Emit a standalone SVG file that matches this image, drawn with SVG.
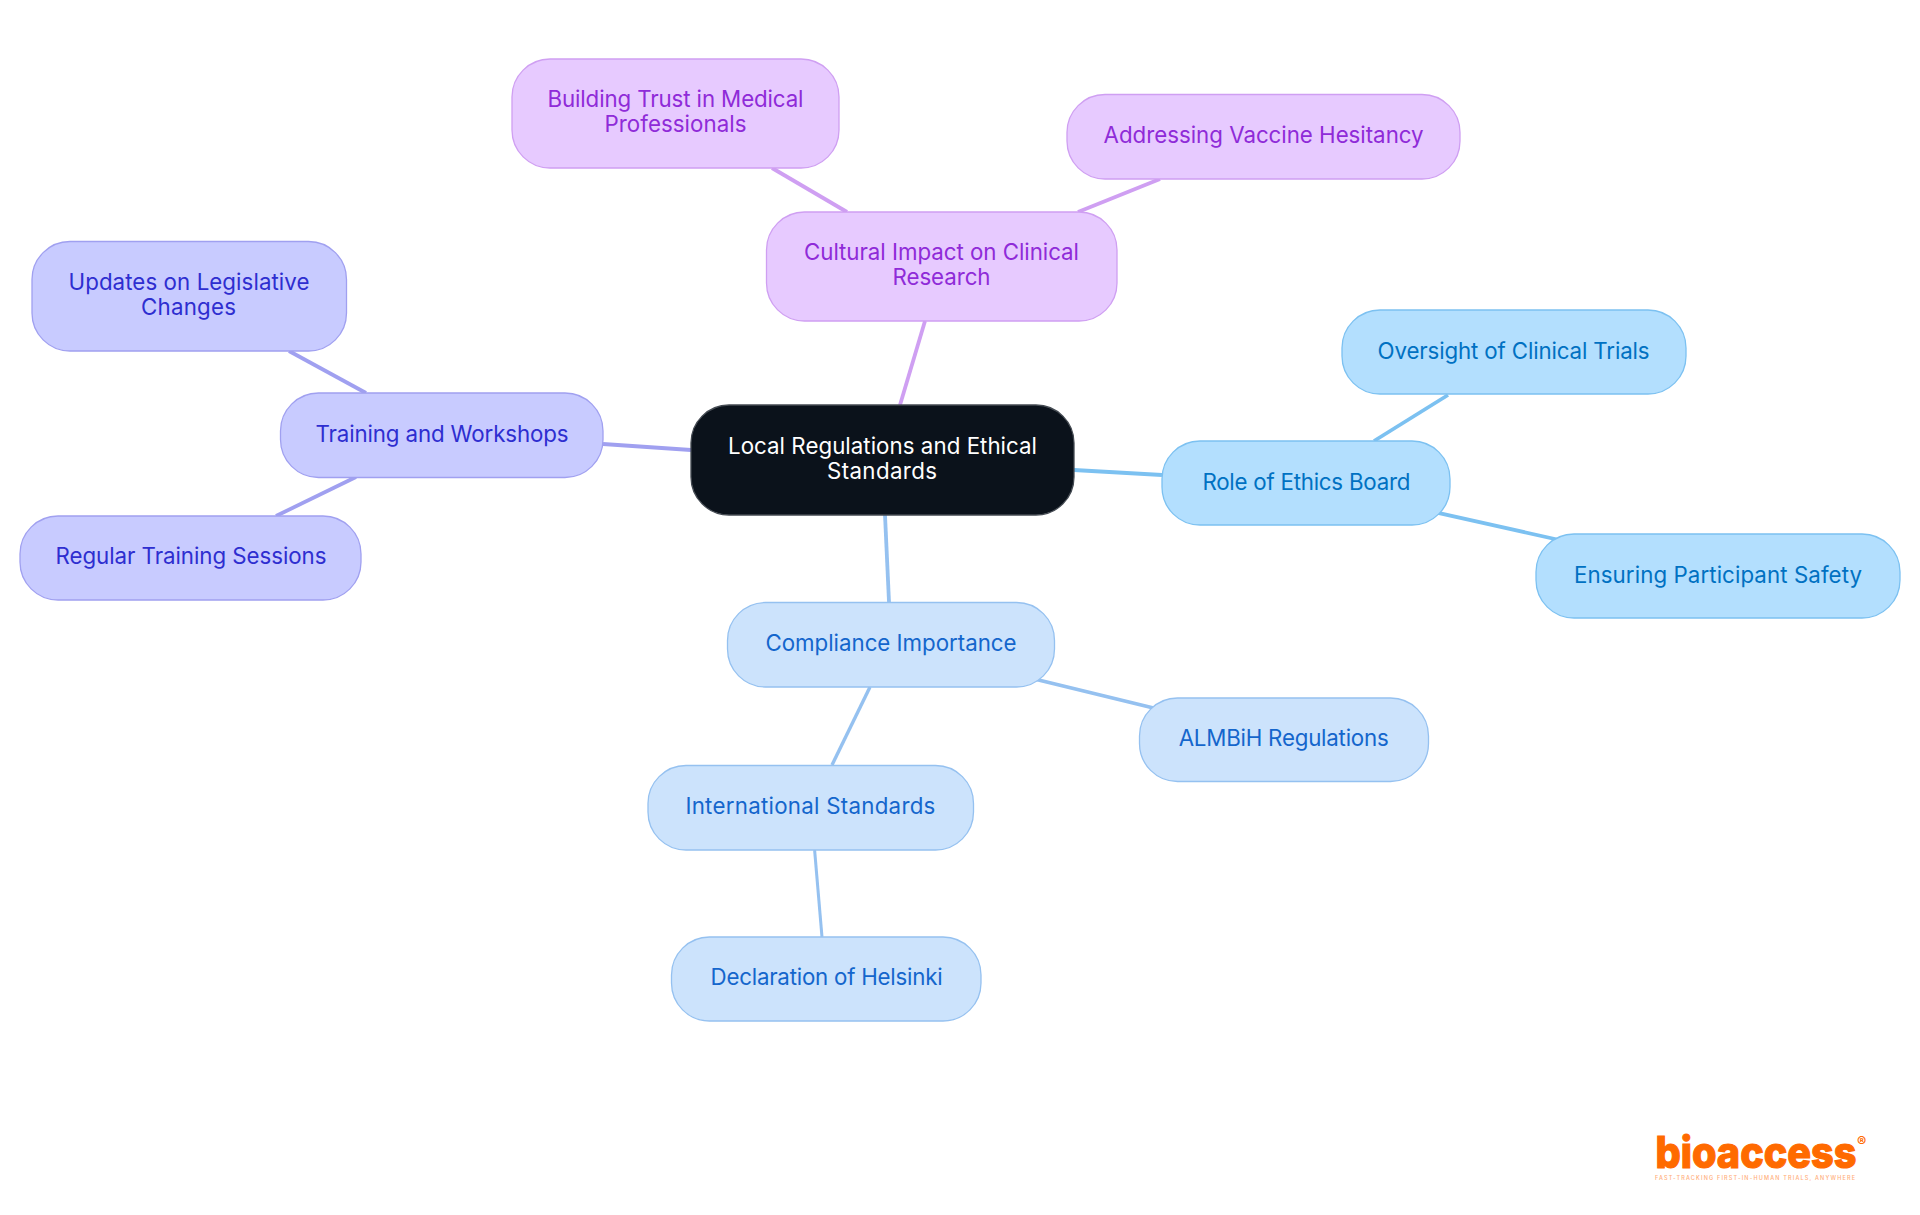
<svg xmlns="http://www.w3.org/2000/svg" width="1920" height="1215" viewBox="0 0 1920 1215">
<style>
text{font-family:"Inter","Noto Sans","Liberation Sans",sans-serif;font-size:22.3px;font-weight:400;text-anchor:middle}
.c{fill:none;stroke-width:3.8}
.n{stroke-width:1.3}
.a rect{fill:#b3dffe;stroke:#7cc1f1}.a text{fill:#0071c2}
.b rect{fill:#cce3fc;stroke:#95c1f0}.b text{fill:#1466cc}
.p rect{fill:#e7caff;stroke:#cf9ff2}.p text{fill:#8f2bd8}
.i rect{fill:#c8cbff;stroke:#a0a0f0}.i text{fill:#2e2ed0}
.logo{font-family:"Inter","Noto Sans",sans-serif;fill:#ff6a00;text-anchor:start}
</style>
<rect width="1920" height="1215" fill="#fff"/>
<g id="connectors" class="c">
<path d="M1074 470L1162 475" stroke="#7cc1f1"/>
<path d="M1374 441L1448 395" stroke="#7cc1f1"/>
<path d="M1419 508.600L1575 543.500" stroke="#7cc1f1"/>
<path d="M885 515L889 602" stroke="#95c1f0"/>
<path d="M1018 675L1172 712.500" stroke="#95c1f0"/>
<path d="M870 687L832 765" stroke="#95c1f0" stroke-width="3.4"/>
<path d="M814.600 850L822 937" stroke="#95c1f0" stroke-width="3"/>
<path d="M691 450L603 444" stroke="#a0a0f0"/>
<path d="M366 393L289 351" stroke="#a0a0f0"/>
<path d="M356 477L276 516" stroke="#a0a0f0"/>
<path d="M900 405L925 321" stroke="#cf9ff2"/>
<path d="M847 212L772 168" stroke="#cf9ff2"/>
<path d="M1078 212L1160 179" stroke="#cf9ff2"/>
</g>
<g id="root"><rect x="691" y="405" width="383" height="110" rx="38" fill="#0b121b" stroke="#444a52" stroke-width="1.3"/><text x="882.500" y="454" fill="#fff" textLength="309">Local Regulations and Ethical</text><text x="882" y="479" fill="#fff" textLength="110">Standards</text></g>
<g id="role" class="a n"><rect x="1162" y="441" width="288" height="84" rx="38"/><text x="1306.400" y="490" textLength="208">Role of Ethics Board</text></g>
<g id="oversight" class="a n"><rect x="1342" y="310" width="344" height="84" rx="38"/><text x="1513.600" y="359" textLength="272">Oversight of Clinical Trials</text></g>
<g id="safety" class="a n"><rect x="1536" y="534" width="364" height="84" rx="38"/><text x="1718" y="583" textLength="288">Ensuring Participant Safety</text></g>
<g id="compliance" class="b n"><rect x="727.500" y="602.500" width="327" height="84.500" rx="38"/><text x="891" y="651" textLength="251">Compliance Importance</text></g>
<g id="almbih" class="b n"><rect x="1139.500" y="698" width="289" height="83.500" rx="38"/><text x="1283.700" y="746" textLength="210">ALMBiH Regulations</text></g>
<g id="international" class="b n"><rect x="648" y="765.500" width="325.500" height="84.500" rx="38"/><text x="810.400" y="814" textLength="250">International Standards</text></g>
<g id="helsinki" class="b n"><rect x="671.500" y="937" width="309.500" height="84" rx="38"/><text x="826.600" y="985" textLength="232">Declaration of Helsinki</text></g>
<g id="training" class="i n"><rect x="280.500" y="393" width="322.500" height="84.500" rx="38"/><text x="442" y="442" textLength="253">Training and Workshops</text></g>
<g id="updates" class="i n"><rect x="32" y="241.500" width="314.500" height="109.500" rx="38"/><text x="189" y="290" textLength="241">Updates on Legislative</text><text x="188.500" y="315" textLength="95">Changes</text></g>
<g id="regular" class="i n"><rect x="20" y="516" width="341" height="84" rx="38"/><text x="191" y="564" textLength="271">Regular Training Sessions</text></g>
<g id="cultural" class="p n"><rect x="766.500" y="212" width="350.500" height="109" rx="38"/><text x="941.500" y="260" textLength="275">Cultural Impact on Clinical</text><text x="941.500" y="285" textLength="98">Research</text></g>
<g id="building" class="p n"><rect x="512" y="59" width="327" height="109" rx="38"/><text x="675.500" y="107" textLength="256">Building Trust in Medical</text><text x="675.500" y="132" textLength="142">Professionals</text></g>
<g id="vaccine" class="p n"><rect x="1067" y="94.500" width="393" height="84.500" rx="38"/><text x="1263.600" y="143" textLength="320">Addressing Vaccine Hesitancy</text></g>
<g id="logo"><text class="logo" x="1655.500" y="1167.500" style="font-weight:800;font-size:44px" textLength="201" lengthAdjust="spacingAndGlyphs" stroke="#ff6a00" stroke-width="1.200">bioaccess</text><text class="logo" x="1857" y="1147" style="font-weight:700;font-size:14px">®</text><text class="logo" x="1655" y="1179.500" style="font-size:5.500px;font-weight:500;fill:#ffae7a" textLength="200">FAST-TRACKING FIRST-IN-HUMAN TRIALS, ANYWHERE</text></g>
</svg>
